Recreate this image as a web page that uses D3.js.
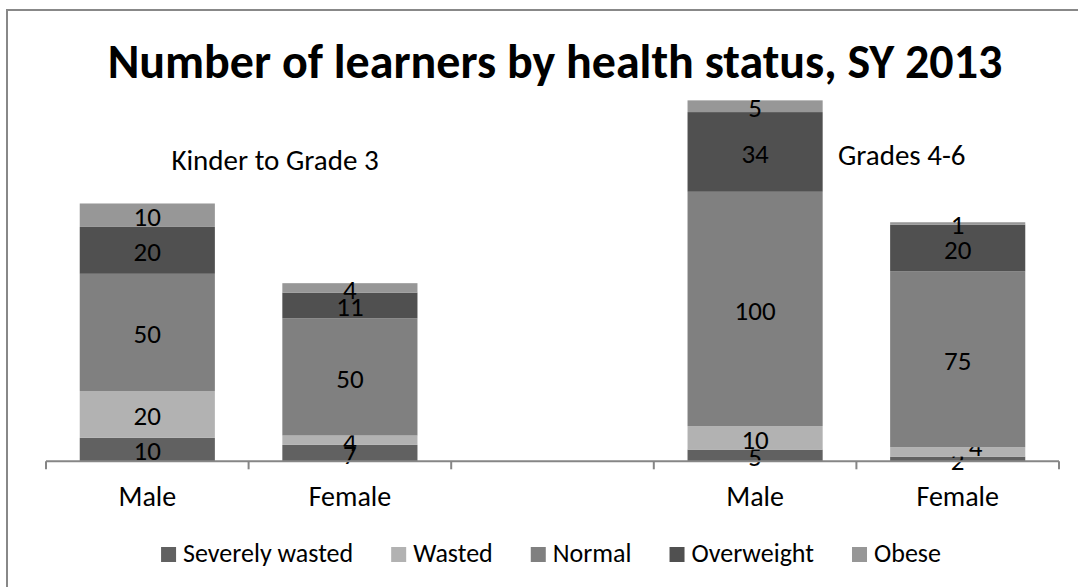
<!DOCTYPE html>
<html>
<head>
<meta charset="utf-8">
<script src="https://cdn.jsdelivr.net/npm/d3@7"></script>
<style>
  body { margin: 0; background: #fff; }
  svg text { font-family: Carlito, Calibri, Lato, sans-serif; fill: #000; }
</style>
</head>
<body>
<div id="chart"></div>
<script>
// categories on the x axis (the blank one is the gap between the two groups)
const categories = ["Male", "Female", "", "Male ", "Female "];
const series = ["Severely wasted", "Wasted", "Normal", "Overweight", "Obese"];
const colors = ["#616161", "#b2b2b2", "#808080", "#505050", "#979797"];

// values per category, one array per series
const severelyWasted = [10, 7, null, 5, 2];
const wasted = [20, 4, null, 10, 4];
const normal = [50, 50, null, 100, 75];
const overweight = [20, 11, null, 34, 20];
const obese = [10, 4, null, 5, 1];

const groupLabels = ["Kinder to Grade 3", "Grades 4-6"];
const title = "Number of learners by health status, SY 2013";

const w = 1078;
const h = 587;
const left = 46, right = 1059;
const baseY = 461.3, topY = 86.3;
const fs = "27px";

const values = [severelyWasted, wasted, normal, overweight, obese];
const table = categories.map((c, i) => {
  const row = { cat: c };
  series.forEach((s, j) => (row[s] = values[j][i] || 0));
  return row;
});
const stacked = d3.stack().keys(series)(table);

const svg = d3
  .select("#chart")
  .append("svg")
  .attr("width", w)
  .attr("height", h);

// chart frame
svg
  .append("rect")
  .attr("x", 7)
  .attr("y", 10)
  .attr("width", 1200)
  .attr("height", 700)
  .attr("fill", "#fff")
  .attr("stroke", "#888")
  .attr("stroke-width", 2);

// title
svg
  .append("text")
  .attr("x", 555)
  .attr("y", 78)
  .attr("text-anchor", "middle")
  .style("font-size", "48px")
  .style("font-weight", "bold")
  .text(title);

const x = d3.scaleBand().domain(categories).range([left, right]).paddingInner(0.333).paddingOuter(0.1665);
const y = d3.scaleLinear().domain([0, 160]).range([baseY, topY]);

// bars
const layer = svg
  .selectAll("g.layer")
  .data(stacked)
  .enter()
  .append("g")
  .attr("class", "layer")
  .attr("fill", (d, i) => colors[i]);

layer
  .selectAll("rect")
  .data((d) => d.map((p) => ({ p: p, key: d.key })))
  .enter()
  .filter((d) => d.p[1] - d.p[0] > 0)
  .append("rect")
  .attr("x", (d) => x(d.p.data.cat))
  .attr("y", (d) => y(d.p[1]))
  .attr("width", x.bandwidth())
  .attr("height", (d) => y(d.p[0]) - y(d.p[1]));

// data labels
layer
  .selectAll("text")
  .data((d) => d.map((p) => ({ p: p, key: d.key })))
  .enter()
  .filter((d) => d.p[1] - d.p[0] > 0)
  .append("text")
  .attr("x", (d) => {
    let cx = x(d.p.data.cat) + x.bandwidth() / 2;
    // the little "4" on the right-hand Female bar was nudged aside
    if (d.key === "Wasted" && d.p.data.cat === "Female ") cx += 18;
    return cx;
  })
  .attr("y", (d) => {
    let cy = (y(d.p[0]) + y(d.p[1])) / 2;
    if (d.key === "Wasted" && d.p.data.cat === "Female ") cy -= 7;
    return cy;
  })
  .attr("dy", "0.4em")
  .attr("text-anchor", "middle")
  .style("font-size", fs)
  .text((d) => d.p[1] - d.p[0]);

// x axis
const xAxis = d3.axisBottom(x).tickSize(0).tickFormat((d) => d.trim());
const gx = svg
  .append("g")
  .attr("transform", "translate(0," + baseY + ")")
  .call(xAxis);
gx.select(".domain").attr("stroke", "#868686").attr("stroke-width", 2)
  .attr("d", "M" + left + ",0H" + right);
gx.selectAll("text").attr("y", 0).attr("dy", 0)
  .attr("transform", "translate(0,45)")
  .style("font-size", "28px")
  .style("font-family", null);
gx.attr("font-family", null).attr("font-size", null);
const step = x.step();
svg
  .append("g")
  .selectAll("line")
  .data(d3.range(categories.length + 1))
  .enter()
  .append("line")
  .attr("x1", (i) => left + i * step)
  .attr("x2", (i) => left + i * step)
  .attr("y1", baseY)
  .attr("y2", baseY + 8)
  .attr("stroke", "#868686")
  .attr("stroke-width", 2);

// group labels
svg.append("text").attr("x", 275).attr("y", 170).attr("text-anchor", "middle")
  .style("font-size", "29px").text(groupLabels[0]);
svg.append("text").attr("x", 838).attr("y", 165)
  .style("font-size", "29px").text(groupLabels[1]);

// legend
const legend = svg.append("g");
let lx = 0;
series.forEach((s, i) => {
  const g = legend.append("g").attr("transform", "translate(" + lx + ",0)");
  g.append("rect").attr("x", 0).attr("y", 547).attr("width", 15).attr("height", 15).attr("fill", colors[i]);
  const t = g.append("text").attr("x", 22).attr("y", 562).style("font-size", "26px").text(s);
  lx += 22 + t.node().getComputedTextLength() + 38;
});
const legendW = lx - 38;
legend.attr("transform", "translate(" + (551 - legendW / 2) + ",0)");
</script>
</body>
</html>
